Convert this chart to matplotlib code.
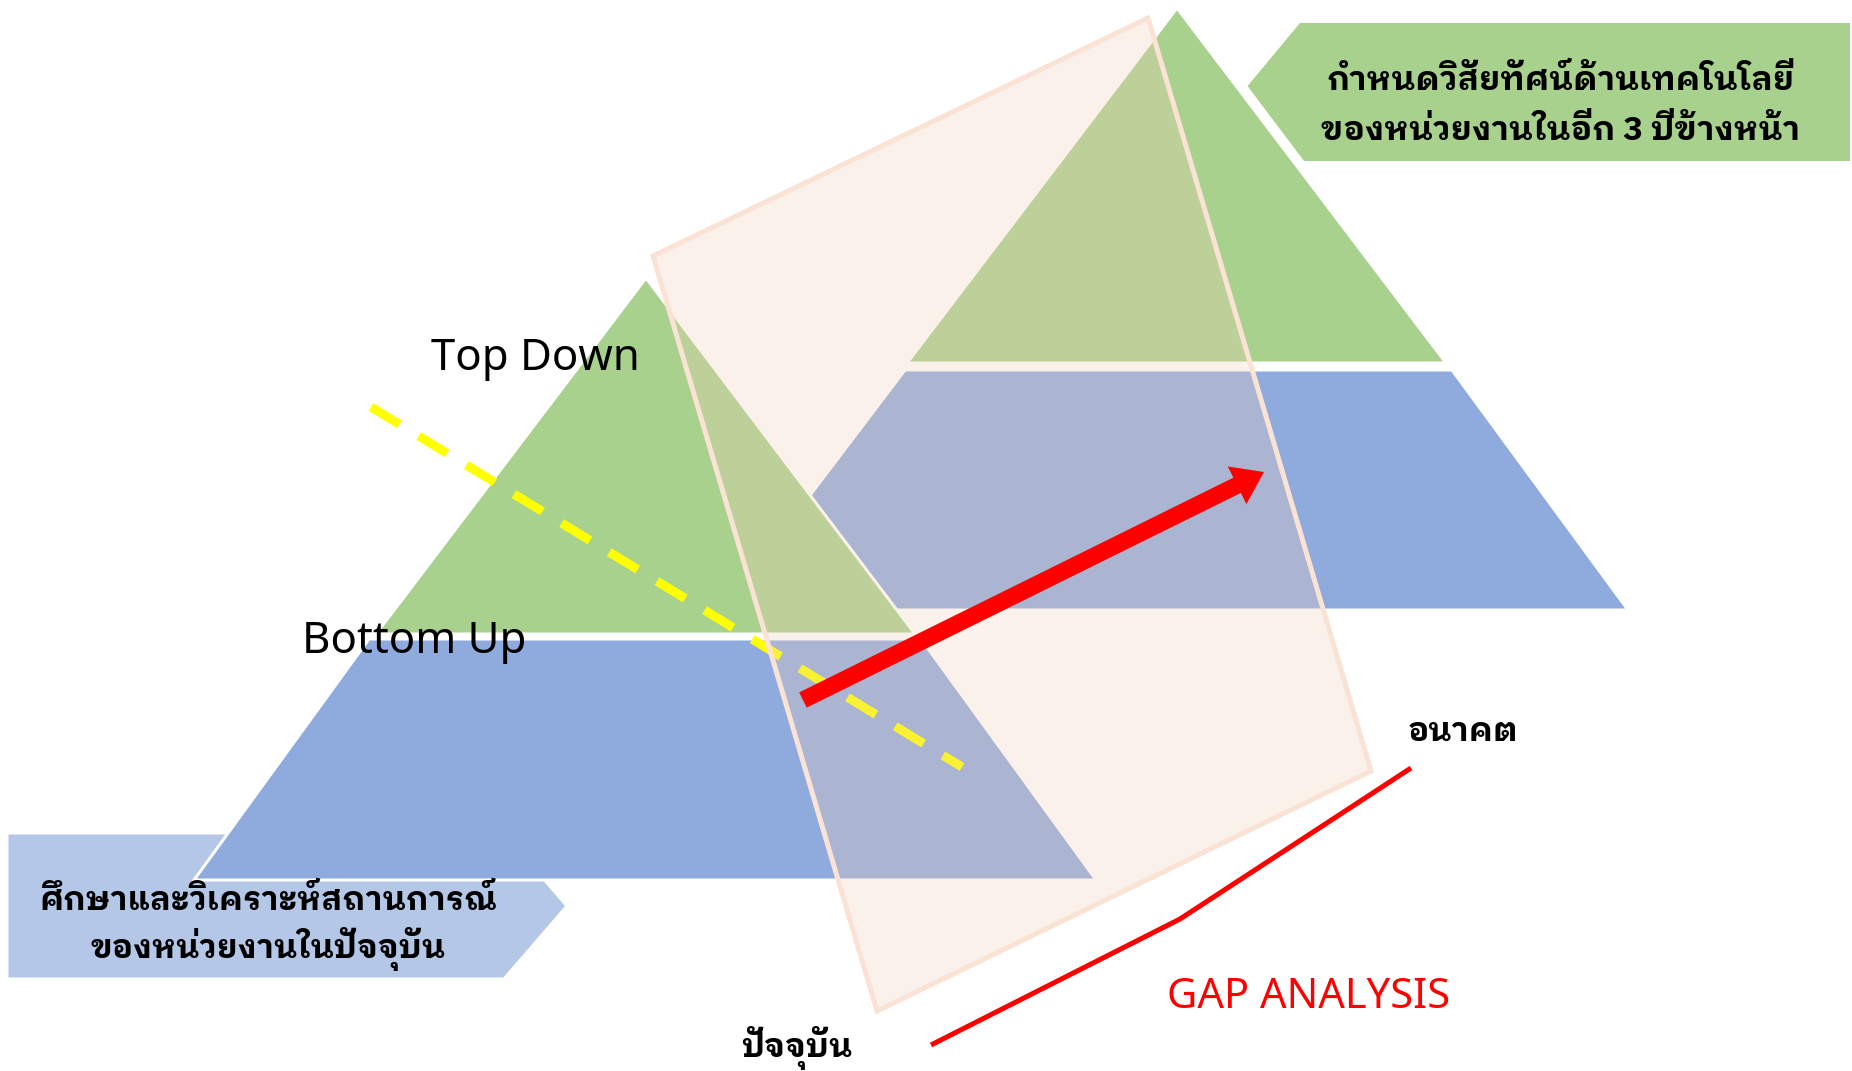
import matplotlib
matplotlib.use("Agg")
import matplotlib.pyplot as plt
from matplotlib.patches import Polygon, FancyArrow

# shapes, in picture pixels (y grows downward)
left_green = [(646, 278), (376, 634), (915, 634)]
left_blue = [(369, 639), (921, 639), (1096, 880), (194, 880)]
right_green = [(1177, 8), (907, 363), (1446, 363)]
right_blue = [(905, 370), (1452, 370), (1628, 610), (723, 610)]
goal_box = [(1299, 21), (1852, 21), (1852, 163), (1303, 163), (1245, 86)]
now_box = [(7, 833), (504, 833), (567, 906), (504, 979), (7, 979)]
gap_frame = [(653, 256), (1148, 18), (1371, 771), (877, 1011)]

yellow_x = [371, 962]
yellow_y = [407, 767]
arrow_tail = (803, 700)
arrow_tip = (1264, 472)
gap_x = [931, 1180, 1411]
gap_y = [1045, 919, 768]

# labels
goal_lines = ["กำหนดวิสัยทัศน์ด้านเทคโนโลยี", "ของหน่วยงานในอีก 3 ปีข้างหน้า"]
now_lines = ["ศึกษาและวิเคราะห์สถานการณ์", "ของหน่วยงานในปัจจุบัน"]
label_now = "ปัจจุบัน"
label_future = "อนาคต"

green = "#A9D18E"
blue = "#8FAADC"
light_blue = "#B4C7E7"

fig = plt.figure(figsize=(18.52, 10.71), dpi=100)
ax = fig.add_axes([0, 0, 1, 1])
ax.set_xlim(0, 1852)
ax.set_ylim(1071, 0)
ax.axis("off")

px = 0.72  # one pixel in points

# future pyramid, then boxes, then current pyramid on top
ax.add_patch(Polygon(right_blue, closed=True, fc=blue, ec="white", lw=3 * px, zorder=1))
ax.add_patch(Polygon(right_green, closed=True, fc=green, ec="white", lw=3 * px, zorder=1))
ax.add_patch(Polygon(goal_box, closed=True, fc=green, ec="white", lw=4 * px, zorder=2))
ax.add_patch(Polygon(now_box, closed=True, fc=light_blue, ec="white", lw=3 * px, zorder=2))
ax.add_patch(Polygon(left_green, closed=True, fc=green, ec="white", lw=3 * px, zorder=3))
ax.add_patch(Polygon(left_blue, closed=True, fc=blue, ec="white", lw=3 * px, zorder=3))

# dashed yellow line
ax.plot(yellow_x, yellow_y, color="#FFFF00", lw=9 * px, ls=(0, (3.7, 2.5)), zorder=4)

# see-through gap frame
ax.add_patch(Polygon(gap_frame, closed=True, fc=(244 / 255, 208 / 255, 184 / 255, 0.28),
                     ec="#FAE3D5", lw=5 * px, zorder=5))

# red arrow and red gap line
ax.add_patch(FancyArrow(arrow_tail[0], arrow_tail[1],
                        arrow_tip[0] - arrow_tail[0], arrow_tip[1] - arrow_tail[1],
                        width=17, head_width=42, head_length=30,
                        length_includes_head=True, fc="#FF0000", ec="none", zorder=6))
ax.plot(gap_x, gap_y, color="#FF0000", lw=5 * px, solid_capstyle="butt", zorder=6)

# text
latin = ["Noto Sans", "DejaVu Sans"]
thai = ["IBM Plex Sans Thai Looped", "Noto Sans Thai", "DejaVu Sans"]

ax.text(535, 370, "Top Down", fontsize=31.5, family=latin, ha="center", va="baseline", zorder=7)
ax.text(414, 653, "Bottom Up", fontsize=31.5, family=latin, ha="center", va="baseline", zorder=7)
ax.text(1309, 1008, "GAP ANALYSIS", fontsize=30, family=latin, color="#FF0000",
        ha="center", va="baseline", zorder=7)

for line, y in zip(goal_lines, [90, 140]):
    ax.text(1561, y, line, fontsize=24, family=thai, fontweight="bold",
            ha="center", va="baseline", zorder=7)
for line, y in zip(now_lines, [910, 958]):
    ax.text(268, y, line, fontsize=23.5, family=thai, fontweight="bold",
            ha="center", va="baseline", zorder=7)
ax.text(797, 1057, label_now, fontsize=23.5, family=thai, fontweight="bold",
        ha="center", va="baseline", zorder=7)
ax.text(1463, 741, label_future, fontsize=23.5, family=thai, fontweight="bold",
        ha="center", va="baseline", zorder=7)

fig.savefig("out.png", dpi=100)
